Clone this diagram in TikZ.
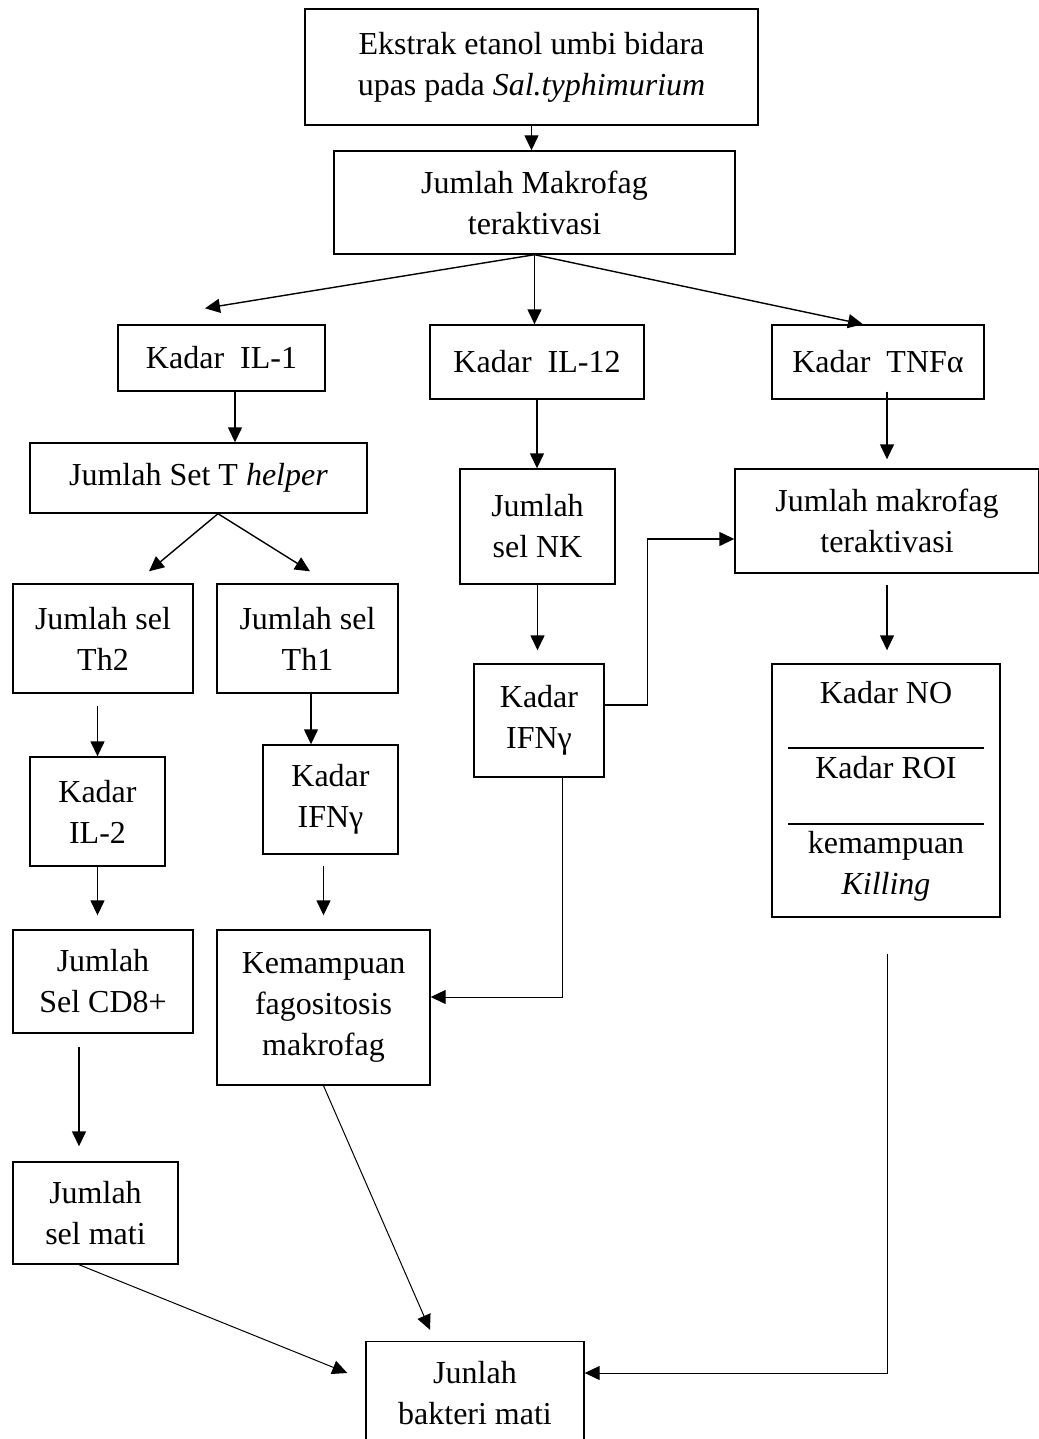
\documentclass[tikz,border=0pt]{standalone}
\usepackage{fontspec}
\setmainfont{Liberation Serif}
\usetikzlibrary{arrows.meta,calc}

\begin{document}
\begin{tikzpicture}[x=1pt,y=-1pt,
  box/.style={draw,line width=1.4pt,align=center,inner sep=0pt,font=\fontsize{32}{41}\selectfont},
  txt/.style={align=center,inner sep=0pt,font=\fontsize{32}{41}\selectfont},
  arr/.style={line width=1.4pt,-{Triangle[length=15pt,width=14pt]}},
  thinarr/.style={line width=1pt}]
  \useasboundingbox (0,0) rectangle (1038,1439);

  % boxes
  \node[box,minimum width=453pt,minimum height=116pt] (ekstrak) at (531.5,67) {Ekstrak etanol umbi bidara\\upas pada \textit{Sal.typhimurium}};
  \node[box,minimum width=401pt,minimum height=103pt] (makro) at (534.5,202.5) {Jumlah Makrofag\\teraktivasi};
  \node[box,minimum width=207pt,minimum height=66pt] (ilsatu) at (221.5,358) {Kadar\ \ IL-1};
  \node[box,minimum width=214pt,minimum height=74pt] (ilduabelas) at (537,362) {Kadar\ \ IL-12};
  \node[box,minimum width=212pt,minimum height=74pt] (tnf) at (878,362) {Kadar\ \ TNFα};
  \node[box,minimum width=337pt,minimum height=70pt] (thelper) at (198.5,478) {Jumlah Set T \textit{helper}};
  \node[box,minimum width=155pt,minimum height=115pt] (nk) at (537.5,526.5) {Jumlah\\sel NK};
  \node[box,minimum width=304pt,minimum height=104pt] (makroB) at (887,521) {Jumlah makrofag\\teraktivasi};
  \node[box,minimum width=180pt,minimum height=109pt] (thdua) at (103,638.5) {Jumlah sel\\Th2};
  \node[box,minimum width=181pt,minimum height=109pt] (thsatu) at (307.5,638.5) {Jumlah sel\\Th1};
  \node[box,minimum width=130pt,minimum height=113pt] (ifnB) at (539,720.5) {Kadar\\IFNγ};
  \node[box,minimum width=228pt,minimum height=253pt] (killing) at (886,790.5) {};
  \node[box,minimum width=135pt,minimum height=109pt] (ildua) at (97.5,811.5) {Kadar\\IL-2};
  \node[box,minimum width=135pt,minimum height=109pt] (ifnA) at (330.5,799.5) {Kadar\\IFNγ};
  \node[box,minimum width=180pt,minimum height=103pt] (cd) at (103,981.5) {Jumlah\\Sel CD8+};
  \node[box,minimum width=213pt,minimum height=155pt] (fago) at (323.5,1007.5) {Kemampuan\\fagositosis\\makrofag};
  \node[box,minimum width=165pt,minimum height=102pt] (selmati) at (95.5,1213) {Jumlah\\sel mati};
  \node[box,minimum width=218pt,minimum height=103pt] (bakteri) at (475,1393) {Junlah\\bakteri mati};

  % parts of the killing box
  \node[txt] (no) at (886,693) {Kadar NO};
  \node[txt] (roi) at (886,768) {Kadar ROI};
  \node[txt] (kill) at (886,866) {kemampuan\\\textit{Killing}};
  \draw[line width=1.4pt] (788,748) -- (984,748);
  \draw[line width=1.4pt] (788,824) -- (984,824);

  % arrows
  \draw[arr] (ekstrak.south) -- (ekstrak.south |- makro.north);
  \draw[arr] (makro.south) -- ($(ilsatu.north)+(-16.5,-16)$);
  \draw[arr] (makro.south) -- (makro.south |- ilduabelas.north);
  \draw[arr] (makro.south) -- ($(tnf.north)+(-15,0)$);
  \draw[arr] ($(ilsatu.south)+(13.5,0)$) -- ($(thelper.north)+(36.5,0)$);
  \draw[arr] (ilduabelas.south) -- (ilduabelas.south |- nk.north);
  \draw[arr,shorten <=-8pt,shorten >=9pt] (makroB.north |- tnf.south) -- (makroB.north);
  \draw[arr] ($(thelper.south)+(19.5,0)$) -- ($(thdua.north)+(46,-12)$);
  \draw[arr] ($(thelper.south)+(19.5,0)$) -- ($(thsatu.north)+(2.5,-12)$);
  \draw[arr,shorten >=13pt] (nk.south) -- (nk.south |- ifnB.north);
  \draw[arr] ($(ifnB.east)+(0,-15.5)$) -- ++(43,0) |- ($(makroB.west)+(0,18)$);
  \draw[arr,shorten <=11pt,shorten >=13pt] (makroB.south) -- (makroB.south |- killing.north);
  \draw[arr,shorten <=12pt] (ildua.north |- thdua.south) -- (ildua.north);
  \draw[arr] ($(thsatu.south)+(3.5,0)$) -- ($(ifnA.north)+(-19.5,0)$);
  \draw[arr,shorten >=14pt] (ildua.south) -- (ildua.south |- cd.north);
  \draw[arr,shorten <=11pt,shorten >=14pt] (fago.north |- ifnA.south) -- (fago.north);
  \draw[arr,thinarr] ($(ifnB.south)+(23,0)$) |- ($(fago.east)+(0,-10.5)$);
  \draw[arr,shorten <=13pt,shorten >=15pt] ($(cd.south)+(-24,0)$) -- ($(selmati.north)+(-16.5,0)$);
  \draw[arr,thinarr] ($(selmati.south)+(-16.5,0)$) -- ($(bakteri.west)+(-18,-20)$);
  \draw[arr,thinarr] (fago.south) -- ($(bakteri.north)+(-45,-11)$);
  \draw[arr,thinarr] ($(killing.south)+(1,36)$) |- ($(bakteri.east)+(0,-20)$);
\end{tikzpicture}
\end{document}
